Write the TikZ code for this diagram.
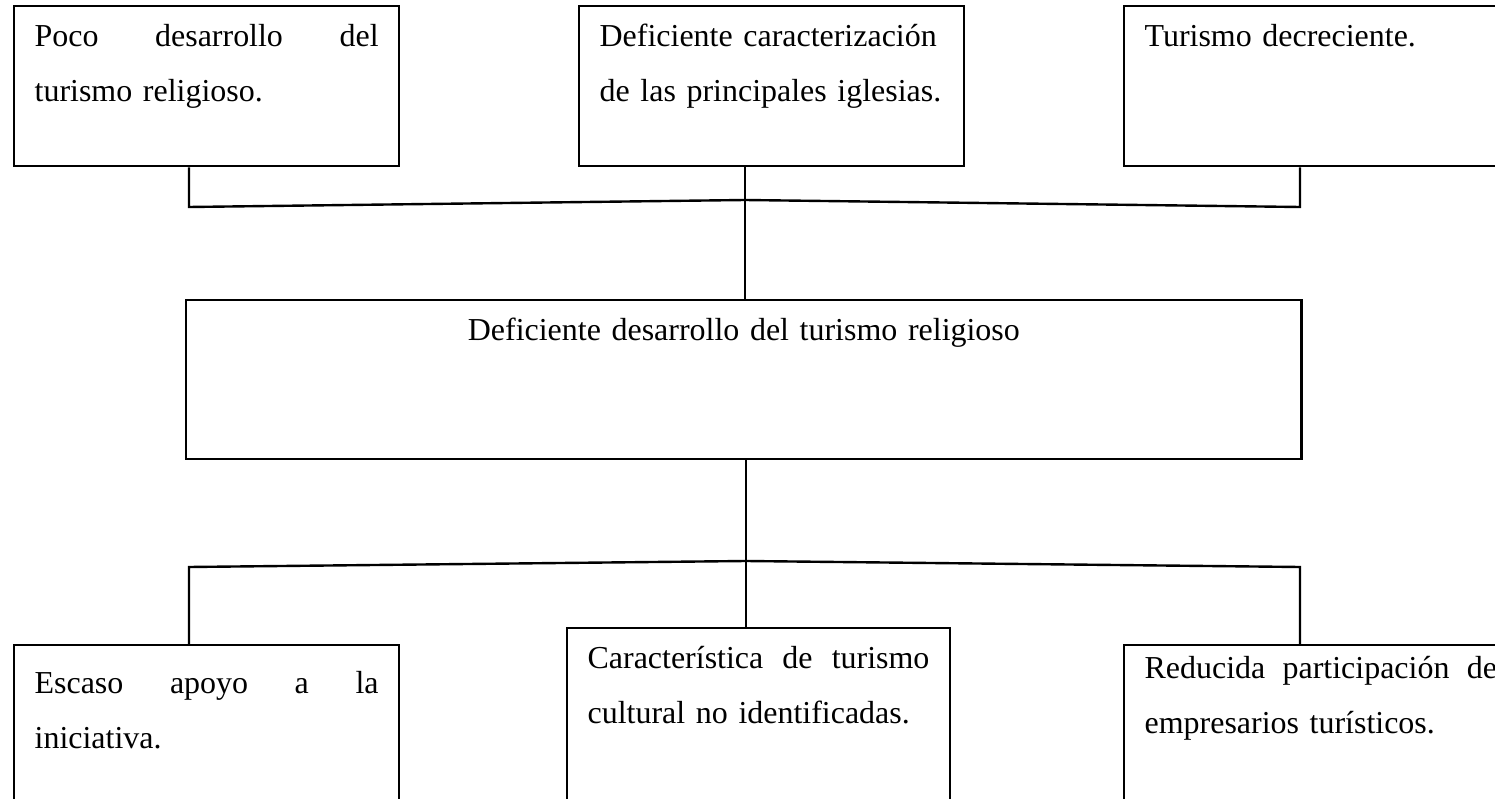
\documentclass[tikz,border=0pt]{standalone}
\usepackage{fontspec}
\setmainfont{Liberation Serif}
\hfuzz=50pt
\hbadness=10000

\begin{document}
\begin{tikzpicture}[
        x=0.0132cm, y=-0.0132cm,
        line width=0.9pt,
        font=\fontsize{12pt}{20.8pt}\selectfont
    ]
    \tikzset{
        cell/.style = {rectangle, draw=black, anchor=north west, align=left,
            text width=4.54cm, inner xsep=0.27cm, inner ysep=0pt,
            text height=0.528cm, text depth=1.584cm},
        wide/.style = {cell, align=center, text width=14.18cm, text depth=1.57cm},
    }
    \useasboundingbox (0,0) rectangle (1495,799);
    \clip (0,0) rectangle (1495,799);
    % efectos
    \node[cell] (c1) at (13,5) {Poco\hfill desarrollo\hfill del\\turismo religioso.};
    \node[cell] (c2) at (578,5) {\makebox[4.71cm][s]{Deficiente caracterización}\\de las principales iglesias.};
    \node[cell, text width=4.65cm] (c3) at (1123,5) {Turismo decreciente.};
    % problema
    \node[wide] (prob) at (185,299) {Deficiente desarrollo del turismo religioso};
    % causas
    \node[cell, text height=0.634cm, text depth=2.2cm] (e1) at (13,644) {Escaso\hfill apoyo\hfill a\hfill la\\iniciativa.};
    \node[cell, text width=4.51cm, text depth=2.2cm] (e2) at (566,627) {Característica\hfill de\hfill turismo\\cultural no identificadas.};
    \node[cell, text width=4.65cm, text height=0.436cm, text depth=2.2cm] (e3) at (1123,644) {Reducida\hfill participación\hfill de\\empresarios turísticos.};
    \coordinate (jt) at (745,200);
    \coordinate (ta) at (189,207);
    \coordinate (tb) at (1300,207);
    \coordinate (jb) at (746,561);
    \coordinate (ba) at (189,567);
    \coordinate (bb) at (1300,567);
    \draw (c1.south -| ta) -- (ta) -- (jt) -- (tb) -- (c3.south -| tb);
    \draw (c2.south -| jt) -- (prob.north -| jt);
    \draw (prob.south -| jb) -- (e2.north -| jb);
    \draw (e1.north -| ba) -- (ba) -- (jb) -- (bb) -- (e3.north -| bb);
\end{tikzpicture}
\end{document}
